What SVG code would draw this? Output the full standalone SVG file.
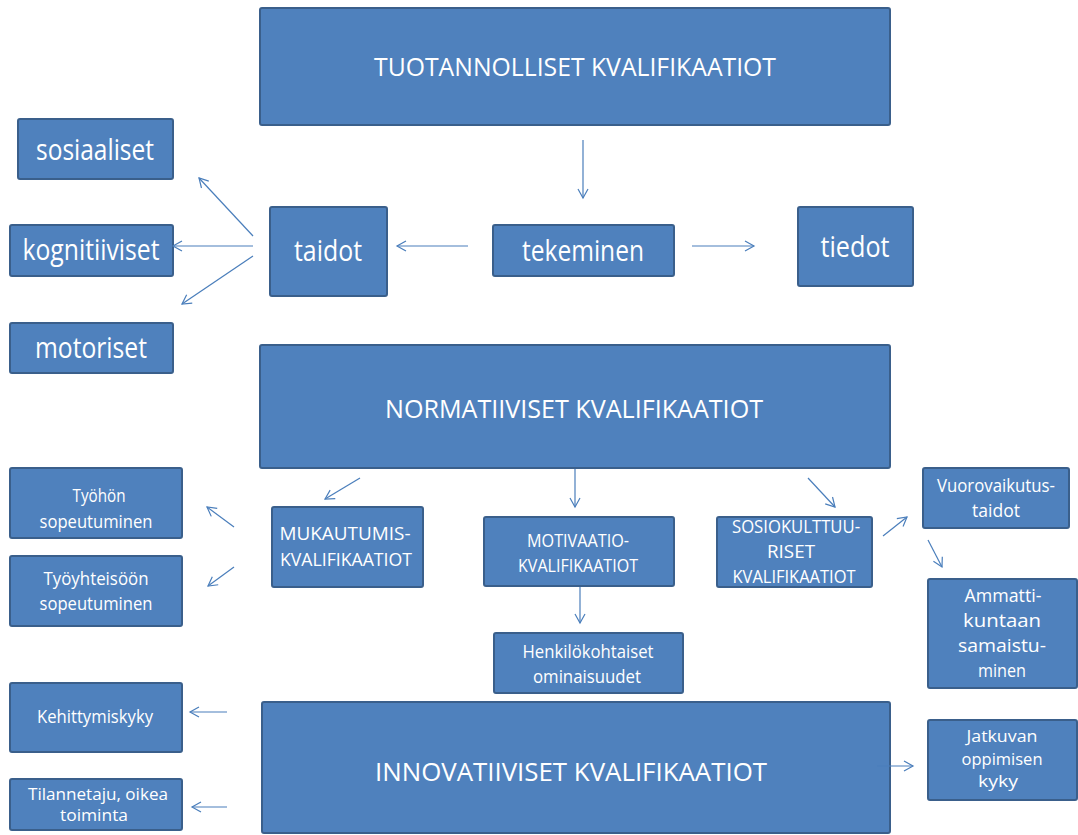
<svg xmlns="http://www.w3.org/2000/svg" width="1078" height="835" viewBox="0 0 1078 835">
<style>
.b{fill:#4F81BD;stroke:#3A5F8B;stroke-width:2}
text{fill:#fff;font-family:"Open Sans","Liberation Sans",sans-serif;text-anchor:middle}
.t{font-size:25px}
.m{font-size:29px}
.s{font-size:19px}
.x{font-size:16px}
.c line{stroke:#4A7EBB;stroke-width:1.2;fill:none;marker-end:url(#a)}
</style>
<defs>
<marker id="a" markerUnits="userSpaceOnUse" markerWidth="14" markerHeight="14" refX="10" refY="6" orient="auto">
<path d="M1,1 L10,6 L1,11" fill="none" stroke="#4A7EBB" stroke-width="1.2"/>
</marker>
</defs>
<rect width="1078" height="835" fill="#fff"/>
<g id="tuotannolliset"><rect class="b" x="260" y="8" width="630" height="117" rx="2"/><text class="t" x="575" y="76" textLength="402" lengthAdjust="spacingAndGlyphs">TUOTANNOLLISET KVALIFIKAATIOT</text></g>
<g id="sosiaaliset"><rect class="b" x="18" y="119" width="155" height="60" rx="2"/><text class="m" x="95" y="160" textLength="118" lengthAdjust="spacingAndGlyphs">sosiaaliset</text></g>
<g id="kognitiiviset"><rect class="b" x="10" y="225" width="163" height="51" rx="2"/><text class="m" x="91" y="260" textLength="137" lengthAdjust="spacingAndGlyphs">kognitiiviset</text></g>
<g id="motoriset"><rect class="b" x="10" y="323" width="163" height="50" rx="2"/><text class="m" x="91" y="358" textLength="112" lengthAdjust="spacingAndGlyphs">motoriset</text></g>
<g id="taidot"><rect class="b" x="270" y="207" width="117" height="89" rx="2"/><text class="m" x="328" y="261" textLength="68" lengthAdjust="spacingAndGlyphs">taidot</text></g>
<g id="tekeminen"><rect class="b" x="493" y="225" width="181" height="51" rx="2"/><text class="m" x="583" y="261" textLength="122" lengthAdjust="spacingAndGlyphs">tekeminen</text></g>
<g id="tiedot"><rect class="b" x="798" y="207" width="115" height="79" rx="2"/><text class="m" x="855" y="257" textLength="69" lengthAdjust="spacingAndGlyphs">tiedot</text></g>
<g id="normatiiviset"><rect class="b" x="260" y="345" width="630" height="123" rx="2"/><text class="t" x="574" y="418" textLength="378" lengthAdjust="spacingAndGlyphs">NORMATIIVISET KVALIFIKAATIOT</text></g>
<g id="tyohon"><rect class="b" x="10" y="468" width="172" height="70" rx="2"/><text class="s" x="99" y="502" textLength="53" lengthAdjust="spacingAndGlyphs">Työhön</text><text class="s" x="96" y="528" textLength="113" lengthAdjust="spacingAndGlyphs">sopeutuminen</text></g>
<g id="tyoyhteisoon"><rect class="b" x="10" y="556" width="172" height="70" rx="2"/><text class="s" x="96" y="585" textLength="105" lengthAdjust="spacingAndGlyphs">Työyhteisöön</text><text class="s" x="96" y="610" textLength="113" lengthAdjust="spacingAndGlyphs">sopeutuminen</text></g>
<g id="mukautumis"><rect class="b" x="272" y="507" width="151" height="80" rx="2"/><text class="s" x="345" y="540" textLength="131" lengthAdjust="spacingAndGlyphs">MUKAUTUMIS-</text><text class="s" x="346" y="566" textLength="132" lengthAdjust="spacingAndGlyphs">KVALIFIKAATIOT</text></g>
<g id="motivaatio"><rect class="b" x="484" y="517" width="190" height="69" rx="2"/><text class="s" x="578" y="547" textLength="102" lengthAdjust="spacingAndGlyphs">MOTIVAATIO-</text><text class="s" x="578" y="572" textLength="120" lengthAdjust="spacingAndGlyphs">KVALIFIKAATIOT</text></g>
<g id="sosiokulttuuriset"><rect class="b" x="717" y="517" width="155" height="70" rx="2"/><text class="s" x="796" y="533" textLength="128" lengthAdjust="spacingAndGlyphs">SOSIOKULTTUU-</text><text class="s" x="791" y="558" textLength="48" lengthAdjust="spacingAndGlyphs">RISET</text><text class="s" x="794" y="583" textLength="123" lengthAdjust="spacingAndGlyphs">KVALIFIKAATIOT</text></g>
<g id="vuorovaikutus"><rect class="b" x="923" y="468" width="146" height="60" rx="2"/><text class="s" x="996" y="492" textLength="118" lengthAdjust="spacingAndGlyphs">Vuorovaikutus-</text><text class="s" x="996" y="517" textLength="48" lengthAdjust="spacingAndGlyphs">taidot</text></g>
<g id="ammatti"><rect class="b" x="928" y="579" width="149" height="109" rx="2"/><text class="s" x="1003" y="602" textLength="77" lengthAdjust="spacingAndGlyphs">Ammatti-</text><text class="s" x="1002" y="627" textLength="78" lengthAdjust="spacingAndGlyphs">kuntaan</text><text class="s" x="1002" y="652" textLength="88" lengthAdjust="spacingAndGlyphs">samaistu-</text><text class="s" x="1002" y="677" textLength="48" lengthAdjust="spacingAndGlyphs">minen</text></g>
<g id="henkilokohtaiset"><rect class="b" x="494" y="633" width="189" height="60" rx="2"/><text class="s" x="588" y="658" textLength="131" lengthAdjust="spacingAndGlyphs">Henkilökohtaiset</text><text class="s" x="587" y="683" textLength="108" lengthAdjust="spacingAndGlyphs">ominaisuudet</text></g>
<g id="kehittymiskyky"><rect class="b" x="10" y="683" width="172" height="69" rx="2"/><text class="s" x="95" y="723" textLength="116" lengthAdjust="spacingAndGlyphs">Kehittymiskyky</text></g>
<g id="tilannetaju"><rect class="b" x="10" y="779" width="172" height="51" rx="2"/><text class="x" x="98" y="800" textLength="140" lengthAdjust="spacingAndGlyphs">Tilannetaju, oikea</text><text class="x" x="94" y="821" textLength="68" lengthAdjust="spacingAndGlyphs">toiminta</text></g>
<g id="innovatiiviset"><rect class="b" x="262" y="702" width="628" height="131" rx="2"/><text class="t" x="571" y="781" textLength="392" lengthAdjust="spacingAndGlyphs">INNOVATIIVISET KVALIFIKAATIOT</text></g>
<g id="jatkuvan"><rect class="b" x="928" y="720" width="149" height="80" rx="2"/><text class="x" x="1002" y="742" textLength="71" lengthAdjust="spacingAndGlyphs">Jatkuvan</text><text class="x" x="1002" y="765" textLength="81" lengthAdjust="spacingAndGlyphs">oppimisen</text><text class="x" x="998" y="787" textLength="40" lengthAdjust="spacingAndGlyphs">kyky</text></g>
<g id="connectors" class="c">
<line x1="583" y1="140" x2="583" y2="198"/>
<line x1="468" y1="246" x2="397" y2="246"/>
<line x1="692" y1="246" x2="754" y2="246"/>
<line x1="253" y1="236" x2="199" y2="178"/>
<line x1="253" y1="246" x2="173" y2="246"/>
<line x1="253" y1="256" x2="182" y2="304"/>
<line x1="360" y1="478" x2="325" y2="499"/>
<line x1="575" y1="469" x2="575" y2="507"/>
<line x1="808" y1="478" x2="835" y2="507"/>
<line x1="234" y1="527" x2="207" y2="507"/>
<line x1="234" y1="567" x2="208" y2="586"/>
<line x1="580" y1="587" x2="580" y2="623"/>
<line x1="883" y1="536" x2="907" y2="517"/>
<line x1="928" y1="540" x2="942" y2="567"/>
<line x1="227" y1="712" x2="190" y2="712"/>
<line x1="227" y1="807" x2="192" y2="807"/>
<line x1="877" y1="766" x2="913" y2="766"/>
</g>
</svg>
